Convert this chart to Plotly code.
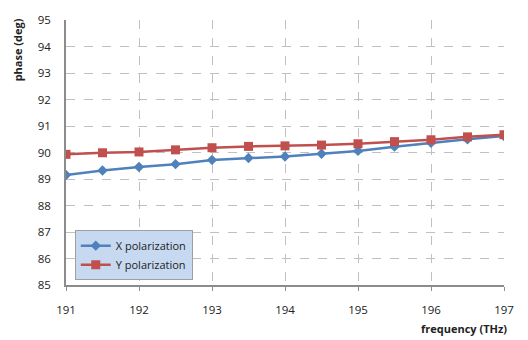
import plotly.graph_objects as go

freq = [191, 191.5, 192, 192.5, 193, 193.5, 194, 194.5, 195, 195.5, 196, 196.5, 197]
x_pol = [89.15, 89.32, 89.45, 89.56, 89.72, 89.79, 89.85, 89.95, 90.06, 90.22, 90.37, 90.50, 90.62]
y_pol = [89.93, 89.99, 90.02, 90.10, 90.18, 90.23, 90.25, 90.28, 90.33, 90.41, 90.48, 90.59, 90.67]
x_ticks = [191, 192, 193, 194, 195, 196, 197]
y_ticks = list(range(85, 96))

font_family = "Open Sans, Liberation Sans, sans-serif"

fig = go.Figure()
fig.add_trace(go.Scatter(x=freq, y=x_pol, mode="lines+markers", name="X polarization",
                         line=dict(color="#4f81bd", width=2.5),
                         marker=dict(symbol="diamond", size=8, color="#4f81bd")))
fig.add_trace(go.Scatter(x=freq, y=y_pol, mode="lines+markers", name="Y polarization",
                         line=dict(color="#c0504d", width=2.5),
                         marker=dict(symbol="square", size=9, color="#c0504d")))

fig.update_layout(
    width=528, height=340,
    margin=dict(l=66, r=24, t=14, b=55),
    paper_bgcolor="white", plot_bgcolor="white",
    font=dict(family=font_family, size=11.5, color="#222"),
    showlegend=True,
    legend=dict(x=0.02, y=0.207, xanchor="left", yanchor="top",
                bgcolor="#c6d9f1", bordercolor="#a0a0a0", borderwidth=1,
                font=dict(size=11, color="#222"), itemwidth=30,
                tracegroupgap=0),
    xaxis=dict(range=[191, 197], tickvals=x_ticks, showgrid=True,
               gridcolor="#c0c0c0", griddash="dash", gridwidth=1,
               showline=True, linecolor="#8c8c8c", linewidth=1.5,
               ticks="outside", ticklen=4, tickcolor="#8c8c8c",
               ticklabelstandoff=9, zeroline=False),
    yaxis=dict(range=[85, 95], tickvals=y_ticks, showgrid=True,
               gridcolor="#c0c0c0", griddash="dash", gridwidth=1,
               showline=True, linecolor="#8c8c8c", linewidth=1.5,
               ticks="", ticklabelstandoff=11, zeroline=False),
    annotations=[
        dict(text="<b>phase (deg)</b>", xref="paper", yref="paper",
             x=-0.11, y=1.015, textangle=-90, showarrow=False,
             xanchor="center", yanchor="top", font=dict(size=11, color="#222")),
        dict(text="<b>frequency (THz)</b>", xref="paper", yref="paper",
             x=1.0114, y=-0.165, showarrow=False, xanchor="right", yanchor="middle",
             font=dict(size=11, color="#222")),
    ],
)

fig.write_html("out.html")
